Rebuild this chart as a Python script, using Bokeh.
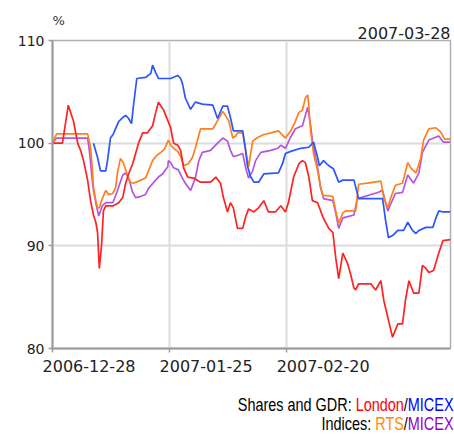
from bokeh.plotting import figure
from bokeh.models import Range1d, FixedTicker, Div, CustomJSTickFormatter, Title
from bokeh.layouts import column
from bokeh.embed import file_html
from bokeh.resources import INLINE

# x = trading-day index from 2006-12-28, y = % of starting value
london_day = [0.0,1.7,2.7,3.6,4.3,4.8,5.3,6.0,6.5,7.0,7.4,7.7,8.0,8.4,8.7,9.1,10.4,11.3,12.0,12.5,13.0,13.7,14.2,14.7,15.4,16.2,17.1,17.6,18.1,19.0,19.7,20.2,20.5,20.7,21.4,21.9,22.4,23.1,24.1,25.3,27.0,27.9,28.7,29.2,29.9,30.4,30.9,31.6,32.5,33.0,33.5,34.4,35.2,36.1,36.9,38.1,39.0,39.8,40.3,41.2,42.1,42.7,43.2,43.8,44.4,45.3,46.2,47.2,47.9,48.4,48.9,49.6,50.4,50.9,51.5,51.8,52.3,54.4,55.2,56.1,56.6,57.3,58.1,59.0,59.8,60.3,60.9,61.7,62.6,63.2,63.8,64.3,65.1,66.0,66.7,68.0]
london_pct = [100.0,100.0,103.7,102.1,100.0,99.3,98.3,96.4,94.4,93.0,92.3,91.3,87.8,90.2,93.4,93.9,93.9,94.2,94.7,96.1,97.0,98.0,99.0,100.0,101.0,101.0,101.7,102.9,104.0,103.2,102.2,101.5,100.5,100.0,99.8,99.3,97.6,96.7,96.6,96.2,96.2,96.7,96.1,94.7,93.3,94.2,93.7,91.7,91.7,92.8,93.6,93.3,93.7,94.4,93.3,93.3,93.9,93.3,94.2,96.7,98.0,98.3,98.1,96.7,94.4,94.2,92.8,91.7,91.3,88.8,86.8,89.3,88.3,87.3,85.9,85.7,86.3,86.3,85.7,86.6,84.7,83.0,81.1,82.4,82.4,84.7,86.6,85.4,85.4,88.1,87.8,87.4,87.6,89.3,90.5,90.6]

micex_sh_day = [7.0,7.7,8.2,9.1,9.4,9.9,10.4,11.3,12.0,12.5,13.0,13.5,13.8,14.4,15.9,16.8,17.1,17.6,18.1,20.2,21.4,21.9,22.2,22.7,23.6,24.4,25.6,27.4,28.2,29.1,29.9,30.4,30.9,32.5,33.0,33.3,33.8,34.4,35.2,36.1,38.6,39.3,39.8,40.7,42.4,43.8,44.6,45.3,45.6,46.3,47.2,48.0,48.9,49.6,51.5,52.3,56.4,56.9,57.4,58.1,59.0,60.0,60.7,61.5,62.1,62.6,63.8,65.0,65.5,66.0,66.7,68.0]
micex_sh_pct = [100.0,98.6,97.3,97.3,98.3,100.5,100.9,102.1,102.5,102.7,102.4,101.9,103.5,106.3,106.4,106.8,107.6,106.9,106.3,106.3,106.6,106.3,105.8,104.4,103.3,104.0,103.8,103.7,102.4,103.6,103.6,102.5,101.2,101.2,99.3,97.8,96.8,96.2,96.2,97.0,97.1,98.0,99.0,99.2,99.5,99.6,100.1,98.6,97.8,98.3,97.8,97.5,96.2,96.4,96.4,94.6,94.6,92.5,90.8,91.0,91.5,91.5,92.3,91.5,91.2,91.5,91.8,91.8,92.7,93.4,93.3,93.3]

rts_day = [0.0,0.7,6.0,6.5,6.8,7.0,7.4,7.7,8.0,8.5,9.1,9.6,10.3,10.8,11.1,11.6,12.1,12.8,13.3,13.8,14.7,15.9,16.4,17.1,17.8,18.5,19.1,19.8,20.2,20.7,21.4,21.9,22.4,23.2,23.9,24.4,25.3,27.4,28.2,29.1,30.1,30.8,31.3,31.6,32.5,33.0,33.5,34.2,34.9,35.9,37.3,38.6,39.8,40.7,41.4,42.1,42.7,43.2,43.6,43.8,44.1,44.6,45.3,45.8,46.2,47.0,47.9,48.4,48.9,49.6,50.1,51.8,52.3,53.8,56.1,56.6,57.3,57.8,58.6,59.8,60.7,61.2,62.1,62.9,63.4,64.3,65.5,66.3,67.0,68.0]
rts_pct = [100.0,100.9,100.9,99.6,97.6,95.7,94.4,93.7,93.7,94.6,95.4,95.0,95.1,95.7,97.1,98.5,98.1,96.9,96.2,96.1,96.3,96.6,97.3,98.3,98.8,99.1,99.4,100.3,99.8,99.5,99.2,98.7,97.8,98.0,98.6,99.5,101.4,101.4,102.2,103.1,102.2,100.5,100.7,101.0,101.0,99.3,97.7,100.2,100.5,100.8,101.0,101.2,100.5,101.2,102.0,103.0,103.2,104.4,104.7,103.5,101.2,99.0,97.3,95.7,94.9,94.9,94.8,93.4,92.2,93.2,93.4,93.4,96.0,96.1,96.3,94.7,93.7,94.7,95.9,96.1,98.1,97.6,97.1,98.5,100.3,101.4,101.5,101.1,100.4,100.4]

micex_ix_day = [0.0,0.7,6.0,6.3,6.7,7.0,7.4,7.9,8.5,9.1,10.3,10.8,11.3,12.0,12.5,13.0,13.7,14.2,15.0,15.9,16.4,17.3,18.1,18.8,19.7,19.8,20.2,20.7,21.5,22.2,22.7,23.6,24.4,25.0,25.6,27.0,28.2,29.1,29.9,30.4,30.9,31.6,32.5,33.0,33.5,34.2,34.7,35.6,37.3,38.5,39.0,39.8,40.7,41.5,42.7,43.6,44.1,44.4,45.3,45.8,46.3,47.9,48.4,48.9,49.6,50.1,51.5,52.1,55.6,56.4,56.9,57.3,57.8,58.6,59.8,60.7,61.7,62.6,63.2,64.3,66.0,66.8,68.0]
micex_ix_pct = [100.0,100.5,100.5,99.3,96.9,95.4,94.2,92.9,93.9,94.2,94.2,94.9,95.7,96.9,97.1,96.6,95.2,94.7,94.8,95.0,95.6,96.2,96.7,97.0,97.7,98.3,98.1,97.6,97.4,96.6,96.1,95.4,96.6,98.3,99.1,99.3,100.0,100.5,100.2,99.3,98.7,98.8,99.0,97.6,96.6,97.3,98.3,99.1,99.3,99.5,99.8,99.5,100.6,101.4,101.7,103.5,101.7,100.3,97.6,95.7,94.6,94.4,93.2,91.7,92.7,92.8,93.0,94.6,95.2,95.4,94.2,93.4,94.1,95.1,95.2,96.9,96.1,97.1,99.1,100.3,100.7,100.1,100.1]

tick_days = [0, 20, 40]
tick_dates = ["2006-12-28", "2007-01-25", "2007-02-20"]
y_ticks = [80, 90, 100, 110]
last_date = "2007-03-28"
unit_label = "%"
x_end = 68

label_shift = 6.24  # tick labels start a little left of their tick, centred to its right

p = figure(frame_width=398, frame_height=308, title=None,
           min_border_left=52, min_border_right=4, min_border_top=40, min_border_bottom=42,
           x_range=Range1d(0, x_end), y_range=Range1d(80, 110),
           output_backend="svg", toolbar_location=None)
p.background_fill_color = "white"
p.border_fill_color = "white"
p.outline_line_color = "#b0b0b0"
p.outline_line_width = 1.5

for ax in (p.xaxis[0], p.yaxis[0]):
    ax.axis_line_color = "#9a9a9a"
    ax.axis_line_width = 2
    ax.major_tick_line_color = "#9a9a9a"
    ax.major_tick_line_width = 1.5
    ax.major_tick_out = 4
    ax.major_tick_in = 0
    ax.minor_tick_line_color = None
    ax.major_label_text_font = "DejaVu Sans"
    ax.major_label_text_color = "#222222"

# x axis: labels on shifted (invisible) major ticks, visible marks on minor ticks
p.xaxis.ticker = FixedTicker(ticks=[t + label_shift for t in tick_days], minor_ticks=tick_days)
p.xaxis.formatter = CustomJSTickFormatter(args=dict(labels=tick_dates), code="return labels[index] ?? ''")
p.xaxis.major_tick_line_color = None
p.xaxis.minor_tick_line_color = "#9a9a9a"
p.xaxis.minor_tick_line_width = 1.5
p.xaxis.minor_tick_out = 4
p.xaxis.minor_tick_in = 0
p.xaxis.major_label_standoff = 7
p.xaxis.major_label_text_font_size = "16px"

p.yaxis.ticker = FixedTicker(ticks=y_ticks)
p.yaxis.major_label_standoff = 4
p.yaxis.major_label_text_font_size = "14px"

p.xgrid.ticker = FixedTicker(ticks=tick_days)
p.xgrid.grid_line_color = "#dcdcdc"
p.xgrid.grid_line_width = 2
p.ygrid.grid_line_color = "#dcdcdc"
p.ygrid.grid_line_width = 2

lw = 1.7
p.line(micex_ix_day, micex_ix_pct, line_color="#b455e0", line_width=lw)
p.line(rts_day, rts_pct, line_color="#ff7f1f", line_width=lw)
p.line(micex_sh_day, micex_sh_pct, line_color="#2a55ff", line_width=lw)
p.line(london_day, london_pct, line_color="#ff2222", line_width=lw)

p.add_layout(Title(text=last_date, align="right", standoff=3, offset=0,
                   text_font="DejaVu Sans", text_font_size="16px",
                   text_font_style="normal", text_color="#222222"), "above")
p.add_layout(Title(text=unit_label, align="left", standoff=-8, offset=0,
                   text_font="DejaVu Sans", text_font_size="13px",
                   text_font_style="normal", text_color="#333333"), "above")

legend_html = (
    '<div style="width:454px;box-sizing:border-box;padding-right:7px;text-align:right;'
    'font-family:\'Liberation Sans\',Arial,sans-serif;font-size:18.5px;line-height:19px;color:#000;'
    'transform:scaleX(0.78);transform-origin:right top;white-space:nowrap;">'
    'Shares and GDR: <span style="color:#ff0000">London</span>/<span style="color:#0000ff">MICEX</span><br>'
    'Indices: <span style="color:#ff8c00">RTS</span>/<span style="color:#9400d3">MICEX</span>'
    '</div>'
)
legend = Div(text=legend_html, width=454, height=40)

layout = column(p, legend, spacing=0)
open("out.html", "w").write(file_html(layout, INLINE))
